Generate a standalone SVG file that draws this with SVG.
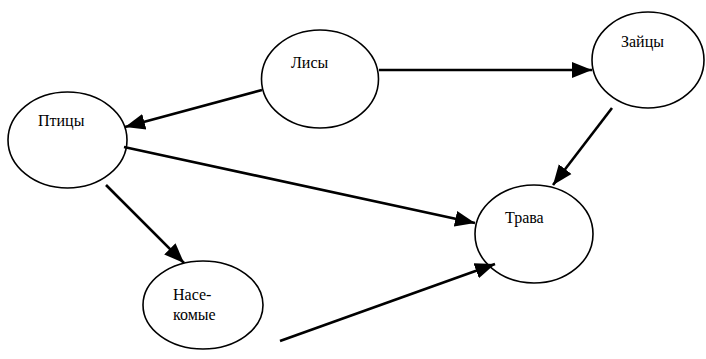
<svg xmlns="http://www.w3.org/2000/svg" width="706" height="359" viewBox="0 0 706 359">
<style>
.n ellipse{fill:#fff;stroke:#000;stroke-width:1.6}
.c line{stroke:#000;stroke-width:2.6;marker-end:url(#ah)}
</style>
<defs>
<marker id="ah" markerUnits="userSpaceOnUse" markerWidth="22" markerHeight="18" refX="20" refY="8" orient="auto" viewBox="0 0 22 16">
<path d="M0,0 L20,8 L0,16 Z" fill="#000"/>
</marker>
</defs>
<rect width="706" height="359" fill="#fff"/>
<g font-family="Liberation Serif, Times New Roman, serif" font-size="16" fill="#000">
<g id="fox" class="n"><ellipse cx="320" cy="79" rx="58.5" ry="49"/><text x="291" y="68">Лисы</text></g>
<g id="hare" class="n"><ellipse cx="648" cy="60" rx="56" ry="48"/><text x="621" y="47">Зайцы</text></g>
<g id="bird" class="n"><ellipse cx="67.5" cy="140" rx="59.5" ry="48"/><text x="38" y="126">Птицы</text></g>
<g id="grass" class="n"><ellipse cx="534" cy="234" rx="59" ry="49"/><text x="505" y="223">Трава</text></g>
<g id="insect" class="n"><ellipse cx="203" cy="305" rx="60" ry="44"/><text x="173" y="300">Насе-</text><text x="173" y="320">комые</text></g>
</g>
<g id="edges" class="c">
<line x1="262" y1="90" x2="125" y2="127"/>
<line x1="379" y1="70" x2="592" y2="70"/>
<line x1="612" y1="108" x2="553" y2="185"/>
<line x1="124" y1="147" x2="475" y2="223"/>
<line x1="106" y1="185" x2="184" y2="263"/>
<line x1="280" y1="341" x2="495" y2="264"/>
</g>
</svg>
